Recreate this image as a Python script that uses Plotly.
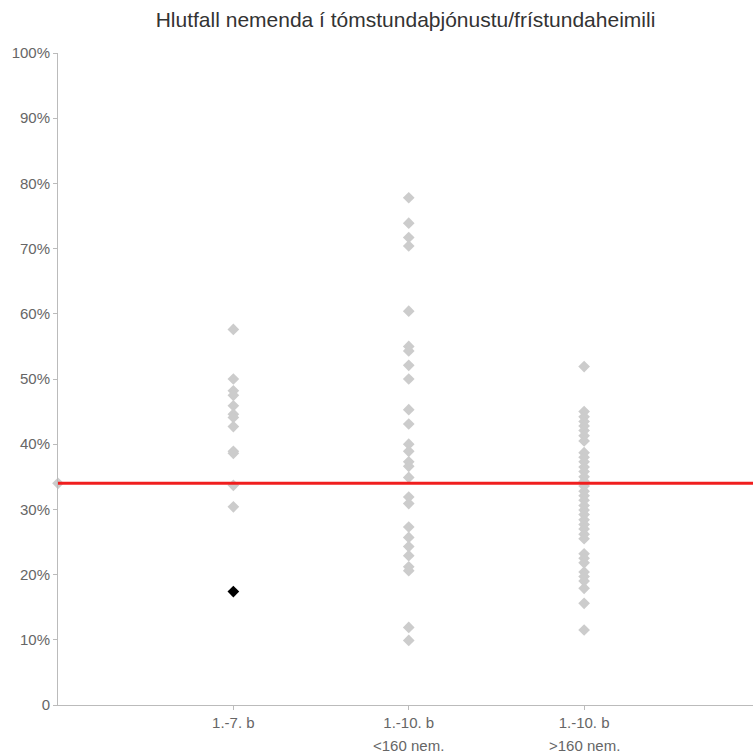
import plotly.graph_objects as go

title = "Hlutfall nemenda í tómstundaþjónustu/frístundaheimili"
categories = ["1.-7. b", "1.-10. b", "1.-10. b"]
sublabels = ["", "<160 nem.", ">160 nem."]
cat_pos = [1, 2, 3]

cat1 = [57.6, 50.0, 48.2, 47.5, 45.9, 44.6, 44.1, 42.7, 38.9, 38.6, 33.7, 30.4]
cat2 = [77.8, 73.9, 71.7, 70.4, 60.4, 55.0, 54.3, 52.1, 50.0, 45.3, 43.1, 40.0,
        38.9, 37.3, 36.6, 34.9, 31.9, 30.9, 27.3, 25.7, 24.3, 22.9, 21.2, 20.6,
        11.9, 9.9]
cat3 = [51.9, 45.0, 44.2, 43.5, 42.8, 42.1, 41.3, 40.5, 38.7, 38.0, 37.3, 36.5,
        35.8, 35.0, 34.3, 33.6, 32.8, 32.1, 31.4, 30.6, 29.9, 29.2, 28.4, 27.7,
        27.0, 26.2, 25.5, 23.2, 22.5, 21.8, 20.4, 19.7, 19.0, 17.9, 15.6, 11.5]
highlight_cat = 1
highlight_val = 17.4
average = 34.0

ytick_vals = [0, 10, 20, 30, 40, 50, 60, 70, 80, 90, 100]
ytick_text = ["0", "10%", "20%", "30%", "40%", "50%", "60%", "70%", "80%", "90%", "100%"]

fig = go.Figure()
gray = "#cccccc"
for pos, vals in zip(cat_pos, [cat1, cat2, cat3]):
    fig.add_trace(go.Scatter(
        x=[pos] * len(vals), y=vals, mode="markers",
        marker=dict(symbol="diamond", size=9, color=gray),
        hoverinfo="y", showlegend=False))

fig.add_trace(go.Scatter(
    x=[0], y=[average], mode="markers",
    marker=dict(symbol="diamond", size=9, color=gray),
    cliponaxis=False, showlegend=False))

fig.add_trace(go.Scatter(
    x=[0, 4], y=[average, average], mode="lines",
    line=dict(color="rgb(240,30,30)", width=3),
    showlegend=False))

fig.add_trace(go.Scatter(
    x=[highlight_cat], y=[highlight_val], mode="markers",
    marker=dict(symbol="diamond", size=9, color="black"),
    showlegend=False))

for pos, sub in zip(cat_pos, sublabels):
    if sub:
        fig.add_annotation(x=pos, xref="x", y=-0.046, yref="paper", yanchor="top",
                           text=sub, showarrow=False,
                           font=dict(size=15, color="#666666"))

fig.update_layout(
    width=753, height=756,
    margin=dict(l=58, r=0, t=53, b=51),
    paper_bgcolor="white", plot_bgcolor="white",
    font=dict(family="Liberation Sans, Arial, sans-serif", size=15, color="#666666"),
    title=dict(text=title, x=0.5, xref="paper", y=0.9735, yref="container",
               yanchor="middle",
               font=dict(size=21, color="#333333")),
    xaxis=dict(range=[0, 3.963], tickvals=cat_pos, ticktext=categories,
               showgrid=False, zeroline=False, showline=True, linecolor="#bbbbbb",
               linewidth=1, ticks="outside", ticklen=4, tickcolor="#bbbbbb",
               tickfont=dict(size=15, color="#666666")),
    yaxis=dict(range=[0, 100], tickvals=ytick_vals, ticktext=ytick_text,
               showgrid=False, zeroline=False, showline=True, linecolor="#bbbbbb",
               linewidth=1, ticks="outside", ticklen=4, tickcolor="#bbbbbb",
               tickfont=dict(size=15, color="#666666")),
)

fig.write_html("out.html",
               config={"displayModeBar": False},
               post_script="document.body.style.margin='0';document.body.style.overflow='hidden';")
